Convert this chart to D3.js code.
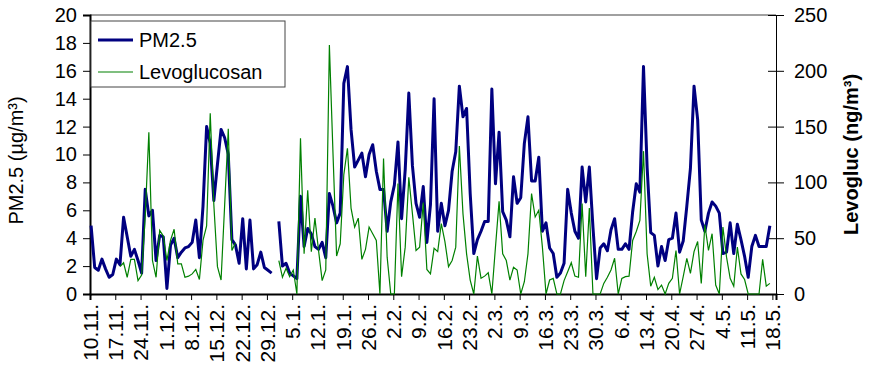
<!DOCTYPE html>
<html>
<head>
<meta charset="utf-8">
<script src="https://cdn.jsdelivr.net/npm/d3@7"></script>
<style>
  body { margin: 0; background: #fff; }
  text { font-family: Arial, "Liberation Sans", sans-serif; }
</style>
</head>
<body>
<svg id="chart" width="871" height="381"></svg>
<script>
// weekly tick labels (first one = day 0)
const dateLabels = ["10.11.","17.11.","24.11.","1.12.","8.12.","15.12.","22.12.","29.12.",
  "5.1.","12.1.","19.1.","26.1.","2.2.","9.2.","16.2.","23.2.","2.3.","9.3.","16.3.",
  "23.3.","30.3.","6.4.","13.4.","20.4.","27.4.","4.5.","11.5.","18.5."];

// daily PM2.5 (µg/m³), null = no sample
const pm25 = [
  4.9,1.9,1.7,2.5,1.8,1.2,1.4,2.5,2.1,5.5,
  4.1,2.7,3.2,2.4,1.5,7.5,5.6,6.0,2.4,4.2,
  4.1,0.4,3.5,4.0,2.6,3.0,3.3,3.4,3.7,5.3,
  2.6,6.3,12.0,10.8,6.7,9.3,11.8,11.2,10.0,3.9,
  3.5,2.2,5.4,1.8,5.3,1.8,2.1,3.0,1.9,1.7,
  1.5,null,5.2,2.0,2.2,1.5,1.3,1.1,7.0,3.4,
  4.7,4.3,3.4,3.2,3.7,2.6,7.2,6.3,5.1,5.8,
  15.1,16.3,11.8,9.1,9.6,10.1,8.4,10.0,10.7,8.8,
  7.5,7.5,4.5,6.6,7.8,10.9,5.4,8.9,14.4,9.2,
  6.5,5.5,7.7,3.7,6.4,14.0,4.5,6.5,4.9,6.0,
  8.8,10.2,14.9,12.7,13.3,7.2,2.9,3.9,4.5,5.2,
  5.2,14.7,7.9,11.6,5.9,5.3,4.1,8.4,6.5,6.9,
  10.8,12.7,8.1,8.1,9.8,4.5,5.1,3.3,2.9,1.2,
  1.5,2.2,7.5,5.8,4.5,4.0,9.1,6.6,9.1,4.8,
  1.1,3.3,3.6,3.1,4.6,5.4,3.2,3.2,3.6,3.2,
  5.9,7.9,7.3,16.3,9.1,4.4,4.2,2.0,3.4,2.4,
  3.9,4.0,5.8,3.0,3.8,6.3,9.0,14.9,12.5,5.3,
  4.5,5.8,6.6,6.3,5.8,2.9,3.0,5.1,2.9,5.0,
  3.9,2.7,1.2,3.4,4.2,3.4,3.4,3.4,4.9
];

// daily levoglucosan (ng/m³)
const levo = [
  null,null,null,null,null,null,null,null,24.5,28,
  15,31,31,12,17,70,145,30,15,57,
  52,30,48,58,27,27,15,16,18,22,
  13,48,61,162,80,24.5,12.5,80,148,39,
  46,null,null,null,null,null,null,null,null,null,
  null,null,30,15,23,15.5,21.5,0,139.5,36,
  93,38,68,39,12,21.5,223,126,34,45,
  107,130.5,77,60,68,31,40,60,54,48,
  0,121.5,33,0,0,99,15.5,42,104.5,72,
  39,42,82,22,18,41,38,63,47,24.5,
  30,42,132.6,72,36,12.5,0,34,14,16,
  19,0,42,83,36,30,12.5,24,21.5,0,
  11,36,90,69,75,42,0,12.5,14,0,
  0,12,20,28,16,15,81,15.5,77,0,
  0,0,9.5,15,21.5,32,0,14,15.5,16,
  48,56,66,128,36,7,15,4,8,0,
  9.5,14,39,0,15.5,32,18.5,38,47,9.5,
  62,39,54,8,0,60,33,14,7,42,
  18,13,0,0,0,0,31,7,9.5
];

const pmTicks = [0,2,4,6,8,10,12,14,16,18,20];
const levoTicks = [0,50,100,150,200,250];

const plotL = 90, plotR = 776, plotT = 15, plotB = 294;
const svg = d3.select("#chart");

const x = d3.scaleLinear().domain([0, 190]).range([plotL, plotR]);
const yL = d3.scaleLinear().domain([0, 20]).range([plotB, plotT]);
const yR = d3.scaleLinear().domain([0, 250]).range([plotB, plotT]);

// top border of plot area
svg.append("line")
  .attr("x1", plotL).attr("x2", plotR)
  .attr("y1", plotT).attr("y2", plotT)
  .attr("stroke", "#808080").attr("stroke-width", 1.5);

// left axis
const gL = svg.append("g").attr("transform", "translate(" + plotL + ",0)")
  .call(d3.axisLeft(yL).tickValues(pmTicks).tickSize(7).tickPadding(6).tickFormat(d3.format("d")));
gL.select(".domain").attr("stroke", "#000").attr("stroke-width", 2);
gL.selectAll("text").style("font-size", "20px").attr("fill", "#000");

// right axis (ticks cross the axis line)
const gR = svg.append("g").attr("transform", "translate(" + plotR + ",0)")
  .call(d3.axisRight(yR).tickValues(levoTicks).tickSize(8).tickPadding(10));
gR.select(".domain").attr("stroke", "#000");
gR.selectAll(".tick line").attr("x1", -8);
gR.selectAll("text").style("font-size", "20px").attr("fill", "#000");

// bottom axis with weekly ticks
const gB = svg.append("g").attr("transform", "translate(0," + plotB + ")")
  .call(d3.axisBottom(x).tickValues(dateLabels.map((d, i) => i * 7))
    .tickSize(6).tickFormat((d, i) => dateLabels[i]));
gB.select(".domain").attr("stroke", "#000").attr("stroke-width", 2);
gB.selectAll("text")
  .style("font-size", "21px").attr("fill", "#000")
  .attr("text-anchor", "end")
  .attr("transform", "rotate(-90)")
  .attr("x", -10).attr("y", 0).attr("dy", "0.35em");

// series lines
const pmLine = d3.line()
  .defined(d => d != null)
  .x((d, i) => x(i + 0.3))
  .y(d => yL(d));
const levoLine = d3.line()
  .defined(d => d != null)
  .x((d, i) => x(i + 0.3))
  .y(d => yR(d));

svg.append("path").datum(pm25)
  .attr("d", pmLine)
  .attr("fill", "none").attr("stroke", "#000080").attr("stroke-width", 3)
  .attr("stroke-linejoin", "round");
svg.append("path").datum(levo)
  .attr("d", levoLine)
  .attr("fill", "none").attr("stroke", "#008000").attr("stroke-width", 1.2);

// legend
const lg = svg.append("g");
lg.append("rect").attr("x", 91).attr("y", 21).attr("width", 194).attr("height", 66)
  .attr("fill", "#fff").attr("stroke", "#444").attr("stroke-width", 1);
lg.append("line").attr("x1", 98).attr("x2", 133).attr("y1", 40).attr("y2", 40)
  .attr("stroke", "#000080").attr("stroke-width", 3);
lg.append("line").attr("x1", 98).attr("x2", 133).attr("y1", 72).attr("y2", 72)
  .attr("stroke", "#008000").attr("stroke-width", 1.2);
lg.append("text").attr("x", 139).attr("y", 40).attr("dy", "0.35em")
  .style("font-size", "20px").text("PM2.5");
lg.append("text").attr("x", 139).attr("y", 72).attr("dy", "0.35em")
  .style("font-size", "20px").text("Levoglucosan");

// axis titles
svg.append("text")
  .attr("transform", "translate(23," + ((plotT + plotB) / 2 + 6) + ") rotate(-90)")
  .attr("text-anchor", "middle")
  .style("font-size", "20px")
  .text("PM2.5 (µg/m³)");
svg.append("text")
  .attr("transform", "translate(858," + ((plotT + plotB) / 2) + ") rotate(-90)")
  .attr("text-anchor", "middle")
  .style("font-size", "20px").style("font-weight", "bold")
  .text("Levogluc (ng/m³)");
</script>
</body>
</html>
